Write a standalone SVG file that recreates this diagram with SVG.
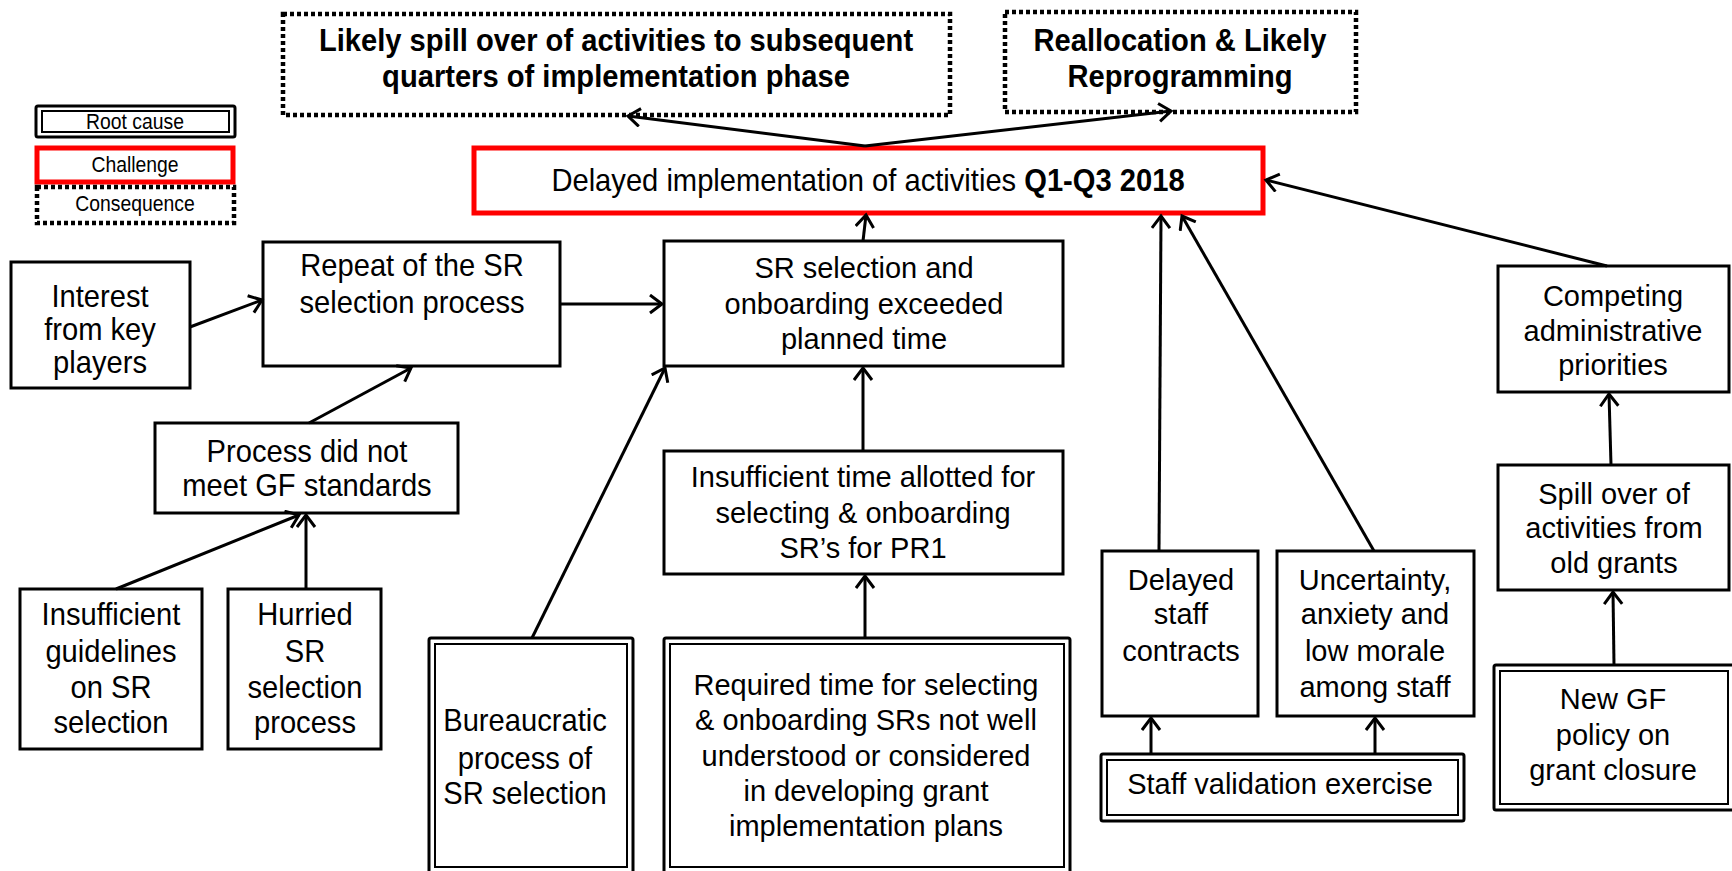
<svg xmlns="http://www.w3.org/2000/svg" width="1732" height="871" viewBox="0 0 1732 871">
<style>
.box{fill:#fff;stroke:#000;stroke-width:3}
.red{fill:#fff;stroke:#f00;stroke-width:5}
.cons{fill:#fff;stroke:#000;stroke-width:4.5;stroke-dasharray:4 3}
.thin{fill:none;stroke:#000;stroke-width:2}
#connectors line{stroke:#000;stroke-width:3;marker-end:url(#arr)}
.w{font-family:"Liberation Sans",Arial,sans-serif;font-size:29px;text-anchor:middle;fill:#000}
.n{font-family:"Liberation Sans",Arial,sans-serif;font-size:31px;text-anchor:middle;fill:#000}
.lg{font-family:"Liberation Sans",Arial,sans-serif;font-size:22px;text-anchor:middle;fill:#000}
.b{font-weight:bold}
</style>
<defs>
<marker id="arr" markerUnits="userSpaceOnUse" markerWidth="16" markerHeight="22" refX="13" refY="10" orient="auto">
<path d="M1,1 L13,10 L1,19" fill="none" stroke="#000" stroke-width="3"/>
</marker>
</defs>
<rect width="1732" height="871" fill="#fff"/>

<g id="legend-root">
<rect class="box" x="36" y="106" width="199" height="31" rx="2"/>
<rect class="thin" x="42" y="111" width="187" height="21"/>
<text class="lg" transform="translate(135,0) scale(0.88,1)"><tspan x="0" y="129">Root cause</tspan></text>
</g>
<g id="legend-challenge">
<rect class="red" x="37" y="148" width="196" height="34"/>
<text class="lg" transform="translate(135,0) scale(0.88,1)"><tspan x="0" y="172">Challenge</tspan></text>
</g>
<g id="legend-consequence">
<rect class="cons" x="37" y="187" width="197" height="36"/>
<text class="lg" transform="translate(135,0) scale(0.88,1)"><tspan x="0" y="211">Consequence</tspan></text>
</g>

<g id="spill">
<rect class="cons" x="283" y="14" width="667" height="101"/>
<text class="n b" transform="translate(616,0) scale(0.94,1)"><tspan x="0" y="51">Likely spill over of activities to subsequent</tspan><tspan x="0" y="87">quarters of implementation phase</tspan></text>
</g>
<g id="realloc">
<rect class="cons" x="1005" y="12" width="351" height="100"/>
<text class="n b" transform="translate(1180,0) scale(0.94,1)"><tspan x="0" y="51">Reallocation &amp; Likely</tspan><tspan x="0" y="87">Reprogramming</tspan></text>
</g>
<g id="delayed-impl">
<rect class="red" x="474" y="148" width="789" height="65"/>
<text class="n" transform="translate(868,0) scale(0.94,1)"><tspan x="0" y="191">Delayed implementation of activities <tspan class="b">Q1-Q3 2018</tspan></tspan></text>
</g>

<g id="interest">
<rect class="box" x="11" y="262" width="179" height="126"/>
<text class="n" transform="translate(100,0) scale(0.94,1)"><tspan x="0" y="307">Interest</tspan><tspan x="0" y="340">from key</tspan><tspan x="0" y="373">players</tspan></text>
</g>
<g id="repeat">
<rect class="box" x="263" y="242" width="297" height="124"/>
<text class="n" transform="translate(412,0) scale(0.94,1)"><tspan x="0" y="276">Repeat of the SR</tspan><tspan x="0" y="313">selection process</tspan></text>
</g>
<g id="sr-selection">
<rect class="box" x="664" y="241" width="399" height="125"/>
<text class="w"><tspan x="864" y="278">SR selection and</tspan><tspan x="864" y="314">onboarding exceeded</tspan><tspan x="864" y="349">planned time</tspan></text>
</g>
<g id="process">
<rect class="box" x="155" y="423" width="303" height="90"/>
<text class="n" transform="translate(307,0) scale(0.94,1)"><tspan x="0" y="462">Process did not</tspan><tspan x="0" y="496">meet GF standards</tspan></text>
</g>
<g id="insufficient-time">
<rect class="box" x="664" y="451" width="399" height="123"/>
<text class="w"><tspan x="863" y="487">Insufficient time allotted for</tspan><tspan x="863" y="523">selecting &amp; onboarding</tspan><tspan x="863" y="558">SR’s for PR1</tspan></text>
</g>
<g id="guidelines">
<rect class="box" x="20" y="589" width="182" height="160"/>
<text class="n" transform="translate(111,0) scale(0.94,1)"><tspan x="0" y="625">Insufficient</tspan><tspan x="0" y="662">guidelines</tspan><tspan x="0" y="698">on SR</tspan><tspan x="0" y="733">selection</tspan></text>
</g>
<g id="hurried">
<rect class="box" x="228" y="589" width="153" height="160"/>
<text class="n" transform="translate(305,0) scale(0.94,1)"><tspan x="0" y="625">Hurried</tspan><tspan x="0" y="662">SR</tspan><tspan x="0" y="698">selection</tspan><tspan x="0" y="733">process</tspan></text>
</g>
<g id="bureaucratic">
<rect class="box" x="429" y="638" width="204" height="240" rx="2"/>
<rect class="thin" x="435" y="644" width="192" height="223"/>
<text class="n" transform="translate(525,0) scale(0.94,1)"><tspan x="0" y="731">Bureaucratic</tspan><tspan x="0" y="769">process of</tspan><tspan x="0" y="804">SR selection</tspan></text>
</g>
<g id="required-time">
<rect class="box" x="664" y="638" width="406" height="240" rx="2"/>
<rect class="thin" x="670" y="644" width="394" height="223"/>
<text class="w"><tspan x="866" y="695">Required time for selecting</tspan><tspan x="866" y="730">&amp; onboarding SRs not well</tspan><tspan x="866" y="766">understood or considered</tspan><tspan x="866" y="801">in developing grant</tspan><tspan x="866" y="836">implementation plans</tspan></text>
</g>
<g id="delayed-staff">
<rect class="box" x="1102" y="551" width="156" height="165"/>
<text class="w"><tspan x="1181" y="590">Delayed</tspan><tspan x="1181" y="624">staff</tspan><tspan x="1181" y="661">contracts</tspan></text>
</g>
<g id="uncertainty">
<rect class="box" x="1277" y="551" width="197" height="165"/>
<text class="w"><tspan x="1375" y="590">Uncertainty,</tspan><tspan x="1375" y="624">anxiety and</tspan><tspan x="1375" y="661">low morale</tspan><tspan x="1375" y="697">among staff</tspan></text>
</g>
<g id="staff-validation">
<rect class="box" x="1101" y="754" width="363" height="67" rx="2"/>
<rect class="thin" x="1107" y="760" width="351" height="55"/>
<text class="w"><tspan x="1280" y="794">Staff validation exercise</tspan></text>
</g>
<g id="competing">
<rect class="box" x="1498" y="266" width="231" height="126"/>
<text class="w"><tspan x="1613" y="306">Competing</tspan><tspan x="1613" y="341">administrative</tspan><tspan x="1613" y="375">priorities</tspan></text>
</g>
<g id="spill-old">
<rect class="box" x="1498" y="465" width="231" height="125"/>
<text class="w"><tspan x="1614" y="504">Spill over of</tspan><tspan x="1614" y="538">activities from</tspan><tspan x="1614" y="573">old grants</tspan></text>
</g>
<g id="new-gf">
<rect class="box" x="1494" y="665" width="240" height="145" rx="2"/>
<rect class="thin" x="1500" y="671" width="228" height="133"/>
<text class="w"><tspan x="1613" y="709">New GF</tspan><tspan x="1613" y="745">policy on</tspan><tspan x="1613" y="780">grant closure</tspan></text>
</g>

<g id="connectors">
<line x1="865" y1="146" x2="628" y2="116"/>
<line x1="865" y1="146" x2="1171" y2="111"/>
<line x1="190" y1="327" x2="262" y2="300"/>
<line x1="560" y1="304" x2="662" y2="304"/>
<line x1="309" y1="423" x2="411" y2="368"/>
<line x1="116" y1="589" x2="299" y2="515"/>
<line x1="306" y1="589" x2="306" y2="515"/>
<line x1="532" y1="638" x2="665" y2="368"/>
<line x1="863" y1="451" x2="863" y2="368"/>
<line x1="865" y1="638" x2="865" y2="576"/>
<line x1="863" y1="241" x2="866" y2="215"/>
<line x1="1159" y1="551" x2="1161" y2="216"/>
<line x1="1374" y1="551" x2="1182" y2="216"/>
<line x1="1607" y1="266" x2="1266" y2="180"/>
<line x1="1611" y1="465" x2="1609" y2="394"/>
<line x1="1614" y1="665" x2="1613" y2="592"/>
<line x1="1151" y1="754" x2="1151" y2="718"/>
<line x1="1375" y1="754" x2="1375" y2="718"/>
</g>
</svg>
